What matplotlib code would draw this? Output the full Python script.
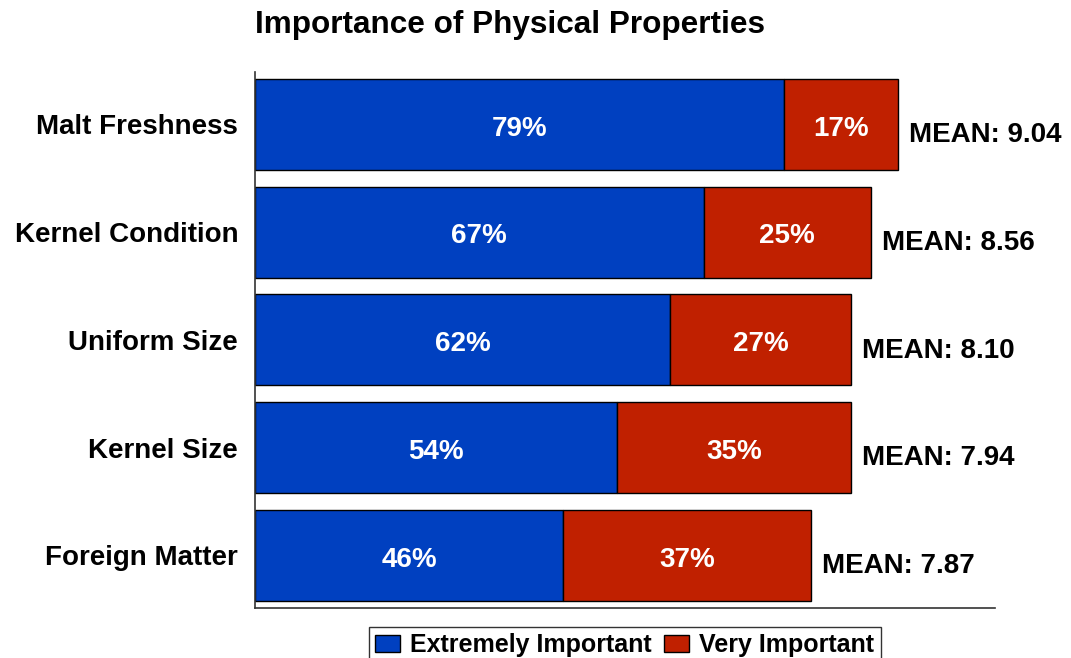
import numpy as np
import matplotlib.pyplot as plt
from matplotlib.patches import Patch

plt.rcParams['font.family'] = ['Liberation Sans', 'DejaVu Sans']
plt.rcParams['font.weight'] = 'bold'

categories = ['Malt Freshness', 'Kernel Condition', 'Uniform Size', 'Kernel Size', 'Foreign Matter']
extremely = [79, 67, 62, 54, 46]
very = [17, 25, 27, 35, 37]
means = [9.04, 8.56, 8.10, 7.94, 7.87]

blue = '#0040C0'
red = '#C02000'

fig = plt.figure(figsize=(10.71, 6.58), dpi=100)
ax = fig.add_axes([0.238, 0.076, 0.691, 0.815])

y = np.arange(len(categories))
ax.barh(y, extremely, height=0.845, color=blue, edgecolor='black', linewidth=1)
ax.barh(y, very, left=extremely, height=0.845, color=red, edgecolor='black', linewidth=1)

for i in range(len(categories)):
    ax.text(extremely[i] / 2, y[i] + 0.04, f'{extremely[i]}%', color='white',
            ha='center', va='center', fontsize=20, fontweight='bold')
    ax.text(extremely[i] + very[i] / 2, y[i] + 0.04, f'{very[i]}%', color='white',
            ha='center', va='center', fontsize=20, fontweight='bold')
    ax.text(extremely[i] + very[i] + 1.7, y[i] + 0.1, f'MEAN: {means[i]:.2f}',
            ha='left', va='center', fontsize=20, fontweight='bold')

ax.set_xlim(0, 110.5)
ax.set_ylim(4.49, -0.49)
ax.set_yticks(y)
ax.set_yticklabels(categories, fontsize=20, fontweight='bold')
ax.tick_params(axis='y', length=0, pad=12)
ax.set_xticks([])

for s in ['top', 'right']:
    ax.spines[s].set_visible(False)
ax.spines['left'].set_color('#333333')
ax.spines['bottom'].set_color('#333333')
ax.spines['left'].set_linewidth(1.2)
ax.spines['bottom'].set_linewidth(1.2)

fig.text(0.238, 0.962, 'Importance of Physical Properties', ha='left', va='center',
         fontsize=22.7, fontweight='bold')

handles = [Patch(facecolor=blue, edgecolor='black', label='Extremely Important'),
           Patch(facecolor=red, edgecolor='black', label='Very Important')]
leg = ax.legend(handles=handles, loc='upper center', bbox_to_anchor=(0.5, -0.035),
                ncol=2, frameon=True, fancybox=False, fontsize=18,
                handlelength=1.0, handleheight=0.7, handletextpad=0.4,
                columnspacing=0.5, borderpad=0.25, borderaxespad=0)
leg.get_frame().set_edgecolor('black')
leg.get_frame().set_linewidth(1)

fig.savefig('out.png', dpi=100)
